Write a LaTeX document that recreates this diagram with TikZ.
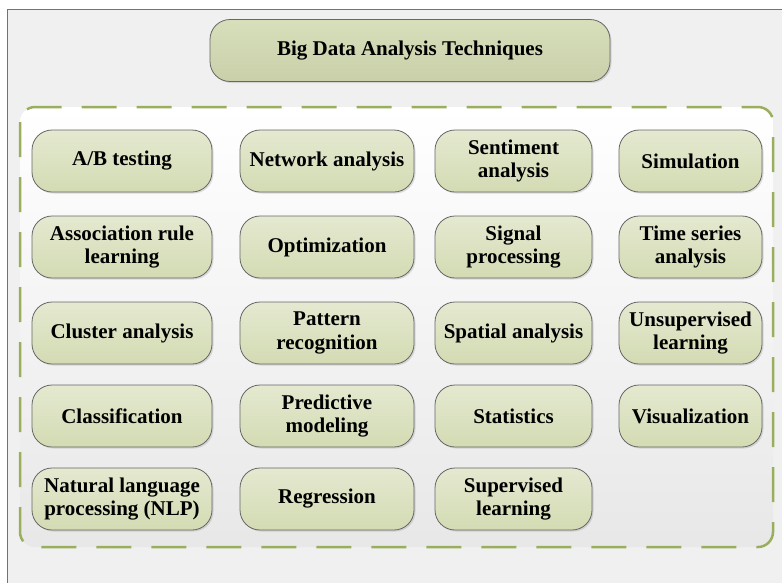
\documentclass[tikz,border=0pt]{standalone}
\usepackage{fontspec}
\setmainfont{Liberation Serif}
\newfontfamily\techfont{Liberation Serif}
\usetikzlibrary{shadows}

\definecolor{paneGray}{HTML}{F0F0F0}
\definecolor{dashGreen}{HTML}{9AAF5E}
\definecolor{boxTop}{HTML}{E4E9D0}
\definecolor{boxBottom}{HTML}{D3DBB3}

\begin{document}
\begin{tikzpicture}[x=1pt,y=-1pt,
	tech/.style={draw=black!60, line width=0.8pt, rounded corners=20pt,
		top color=boxTop, bottom color=boxBottom,
		minimum height=62pt, inner sep=2pt, align=center,
		font=\techfont\bfseries\fontsize{21}{23.5}\selectfont,
		drop shadow={shadow xshift=1.5pt, shadow yshift=-1.5pt, opacity=0.25}},
	colA/.style={tech, minimum width=180pt},
	colB/.style={tech, minimum width=174pt},
	colC/.style={tech, minimum width=157pt},
	colD/.style={tech, minimum width=143pt}]

	\useasboundingbox (0,0) rectangle (782,582);

	% grey pane and dashed group
	\filldraw[fill=paneGray, draw=black!55, line width=1pt] (7,9) rectangle (800,600);
	\draw[dashGreen, line width=2.5pt, dash pattern=on 35pt off 20pt, rounded corners=15pt,
		top color=white, bottom color=paneGray!90!black!60!white]
		(20,107) rectangle (773,547);

	\node[tech, minimum width=400pt, top color=boxBottom!90!white, bottom color=boxBottom!95!black] (bigdata) at (410,50.5) {Big Data Analysis Techniques};

	% first column
	\node[colA] (abtest)  at (122,161) {A/B testing};
	\node[colA] (assoc)   at (122,247) {Association rule\\learning};
	\node[colA] (cluster) at (122,333) {Cluster analysis};
	\node[colA] (classif) at (122,416) {Classification};
	\node[colA] (nlp)     at (122,499) {Natural language\\processing (NLP)};

	% second column
	\node[colB] (network) at (327,161) {Network analysis};
	\node[colB] (optim)   at (327,247) {Optimization};
	\node[colB] (pattern) at (327,333) {Pattern\\recognition};
	\node[colB] (predict) at (327,416) {Predictive\\modeling};
	\node[colB] (regress) at (327,499) {Regression};

	% third column
	\node[colC] (sentiment) at (513.5,161) {Sentiment\\analysis};
	\node[colC] (signal)    at (513.5,247) {Signal\\processing};
	\node[colC] (spatial)   at (513.5,333) {Spatial analysis};
	\node[colC] (stats)     at (513.5,416) {Statistics};
	\node[colC] (superv)    at (513.5,499) {Supervised\\learning};

	% fourth column
	\node[colD] (simul)    at (690.5,161) {Simulation};
	\node[colD] (timeser)  at (690.5,247) {Time series\\analysis};
	\node[colD] (unsuperv) at (690.5,333) {Unsupervised\\learning};
	\node[colD] (visual)   at (690.5,416) {Visualization};

\end{tikzpicture}
\end{document}
